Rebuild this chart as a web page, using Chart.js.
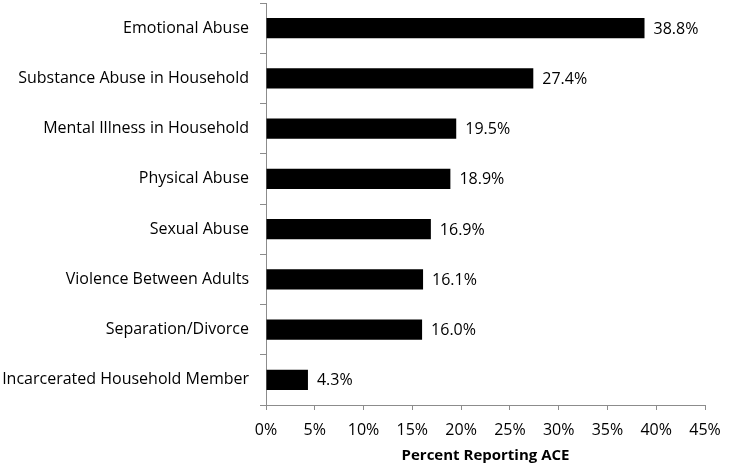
<!DOCTYPE html>
<html>
<head>
<meta charset="utf-8">
<script src="https://cdn.jsdelivr.net/npm/chart.js@4/dist/chart.umd.min.js"></script>
<style>
  html, body { margin: 0; padding: 0; background: #fff; }
  #wrap { width: 730px; height: 463px; }
</style>
</head>
<body>
<div id="wrap"><canvas id="aceChart"></canvas></div>
<script>
const categories = [
    'Emotional Abuse',
    'Substance Abuse in Household',
    'Mental Illness in Household',
    'Physical Abuse',
    'Sexual Abuse',
    'Violence Between Adults',
    'Separation/Divorce',
    'Incarcerated Household Member'
];
const percentValues = [38.8, 27.4, 19.5, 18.9, 16.9, 16.1, 16.0, 4.3];
const xTicks = [0, 5, 10, 15, 20, 25, 30, 35, 40, 45];

const fontFamily = '"Open Sans", "Noto Sans", sans-serif';
const axisGray = '#8c8c8c';

/* value labels at the end of each bar */
const barLabels = {
    id: 'barLabels',
    afterDatasetsDraw(chart) {
        const ctx = chart.ctx;
        const meta = chart.getDatasetMeta(0);
        ctx.save();
        ctx.fillStyle = '#000';
        ctx.font = '16px ' + fontFamily;
        ctx.textAlign = 'left';
        ctx.textBaseline = 'middle';
        meta.data.forEach((bar, i) => {
            ctx.fillText(percentValues[i].toFixed(1) + '%', bar.x + 9, bar.y + 1);
        });
        ctx.restore();
    }
};

const ctx = document.getElementById('aceChart').getContext('2d');

new Chart(ctx, {
    type: 'bar',
    data: {
        labels: categories,
        datasets: [{
            data: percentValues,
            backgroundColor: '#000',
            borderWidth: 0,
            categoryPercentage: 1,
            barPercentage: 0.4
        }]
    },
    options: {
        indexAxis: 'y',
        responsive: true,
        maintainAspectRatio: false,
        animation: false,
        layout: { padding: { top: 3, right: 25, left: 0, bottom: 0 } },
        plugins: {
            legend: { display: false },
            tooltip: { enabled: false }
        },
        scales: {
            x: {
                min: 0,
                max: 45,
                afterBuildTicks: axis => { axis.ticks = xTicks.map(v => ({ value: v })); },
                afterFit: axis => {
                    axis.height = 58;
                    axis.paddingLeft = 0;
                    axis.paddingRight = 0;
                },
                border: { display: true, color: axisGray, width: 1 },
                grid: { drawOnChartArea: false, tickLength: 5, color: axisGray },
                ticks: {
                    color: '#000',
                    font: { family: fontFamily, size: 16 },
                    padding: 11,
                    maxRotation: 0,
                    callback: v => v + '%'
                },
                title: {
                    display: true,
                    text: 'Percent Reporting ACE',
                    color: '#000',
                    font: { family: fontFamily, size: 15, weight: 'bold' },
                    padding: { top: 3, bottom: -2 }
                }
            },
            y: {
                afterFit: axis => {
                    axis.width = 266;
                    axis.paddingTop = 0;
                    axis.paddingBottom = 0;
                },
                border: { display: true, color: axisGray, width: 1 },
                grid: { drawOnChartArea: false, offset: true, tickLength: 6, color: axisGray },
                ticks: {
                    color: '#000',
                    font: { family: fontFamily, size: 16 },
                    padding: 11
                }
            }
        }
    },
    plugins: [barLabels]
});
</script>
</body>
</html>
